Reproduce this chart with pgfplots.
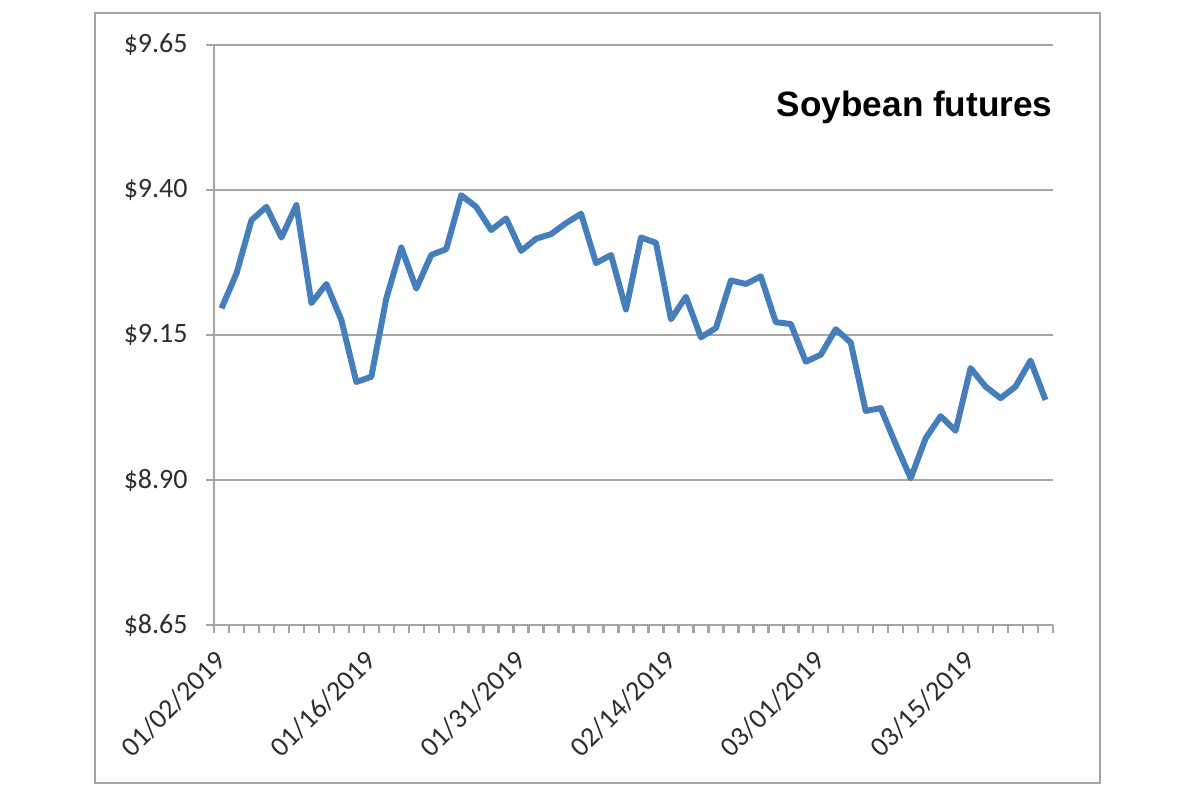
\documentclass[border=0pt]{standalone}
\usepackage{fontspec}
\setmainfont{Carlito}
\newfontfamily\titlefont{Liberation Sans}
\usepackage{pgfplots}
\pgfplotsset{compat=1.18}
\usepackage{pgfplotstable}

\definecolor{soyblue}{RGB}{70,126,187}
\definecolor{gridgray}{RGB}{165,165,165}
\definecolor{labelgray}{RGB}{45,45,45}

% daily settlement, trading days from 01/02/2019
\pgfplotstableread{
day price
0 9.196
1 9.256
2 9.348
3 9.371
4 9.318
5 9.374
6 9.205
7 9.238
8 9.176
9 9.069
10 9.078
11 9.213
12 9.301
13 9.230
14 9.288
15 9.298
16 9.391
17 9.371
18 9.331
19 9.351
20 9.295
21 9.316
22 9.324
23 9.343
24 9.359
25 9.274
26 9.288
27 9.194
28 9.318
29 9.309
30 9.177
31 9.216
32 9.146
33 9.162
34 9.244
35 9.238
36 9.251
37 9.172
38 9.169
39 9.104
40 9.116
41 9.160
42 9.137
43 9.019
44 9.024
45 8.962
46 8.903
47 8.972
48 9.010
49 8.985
50 9.093
51 9.061
52 9.041
53 9.061
54 9.106
55 9.038
}\soy

\begin{document}
\begin{tikzpicture}
\path[use as bounding box] (0,0) rectangle (600pt,400pt);
\draw[gridgray, line width=1.2pt] (47.5pt,8.5pt) rectangle (550pt,393.5pt);
\begin{axis}[
  at={(107pt,87.5pt)}, anchor=south west,
  scale only axis, width=419.5pt, height=290pt,
  xmin=-0.5, xmax=55.5, ymin=8.65, ymax=9.65,
  axis lines=left,
  axis line style={-, gridgray, line width=1.2pt},
  tick align=outside,
  major tick length=4pt,
  tick style={gridgray, line width=1.2pt},
  ymajorgrids,
  grid style={gridgray, line width=1.2pt},
  % one tick between each two trading days
  xtick={-0.5,0.5,...,55.5},
  xticklabels={},
  extra x ticks={0,10,20,30,40,50},
  extra x tick labels={01/02/2019,01/16/2019,01/31/2019,02/14/2019,03/01/2019,03/15/2019},
  extra x tick style={major tick length=0pt, grid=none},
  xticklabel style={rotate=45, anchor=east, inner sep=0pt,
    xshift=-11pt, yshift=-11pt,
    font=\fontsize{14}{16}\selectfont, text=labelgray},
  ytick={8.65,8.90,9.15,9.40,9.65},
  yticklabels={\$8.65,\$8.90,\$9.15,\$9.40,\$9.65},
  yticklabel style={anchor=east, inner sep=0pt, xshift=-9pt,
    font=\fontsize{14}{16}\selectfont, text=labelgray},
]
\addplot[soyblue, line width=3pt, line join=round, no marks] table[x=day, y=price] {\soy};
\node[anchor=base east, inner sep=0pt, font=\titlefont\bfseries\fontsize{17.6}{20}\selectfont]
  at (rel axis cs:1,0.876) {Soybean futures};
\end{axis}
\end{tikzpicture}
\end{document}
